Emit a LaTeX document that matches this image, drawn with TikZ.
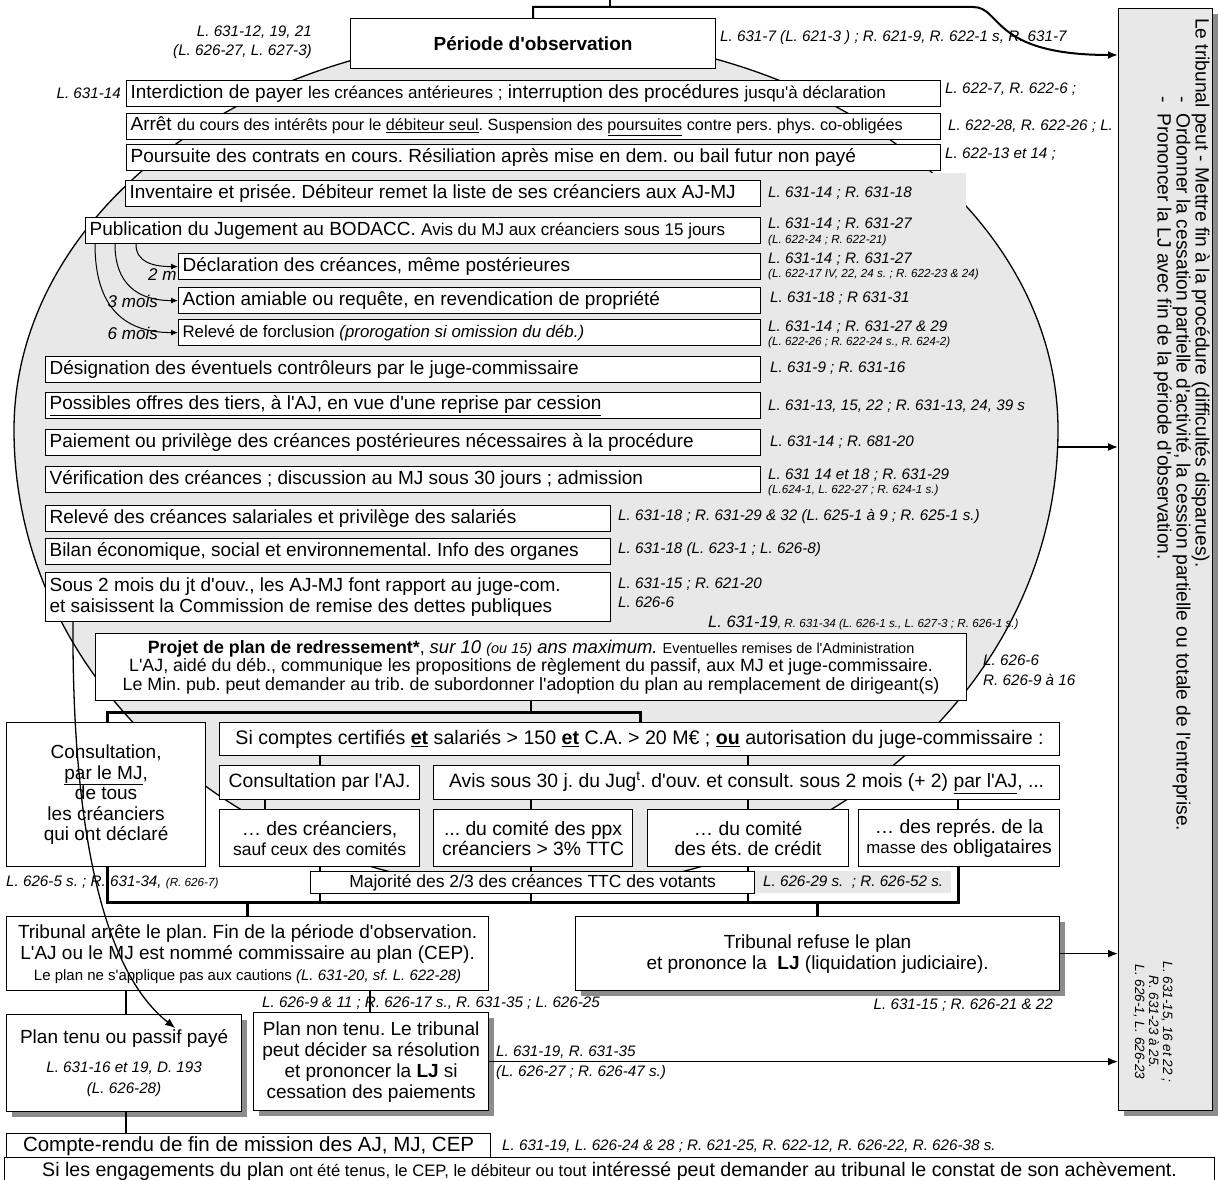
\documentclass[tikz,border=0pt]{standalone}
\usepackage{fontspec}
\setmainfont{Liberation Sans}[Ligatures=TeXOff]
\usetikzlibrary{arrows.meta, shadows}

\definecolor{grisfond}{gray}{0.91}
\definecolor{grisombre}{gray}{0.55}

\newcommand{\tgros}{\fontsize{19}{21}\selectfont}
\newcommand{\tmoy}{\fontsize{16.8}{18}\selectfont}
\newcommand{\tsi}{\fontsize{19.3}{20}\selectfont}
\newcommand{\tprojet}{\fontsize{17.8}{18.5}\selectfont}
\newcommand{\tloi}{\fontsize{15.2}{17}\selectfont\itshape}
\newcommand{\tmini}{\fontsize{11.7}{13}\selectfont\itshape}

\tikzset{
  boite/.style={draw, fill=white, line width=1.2pt, anchor=north west, inner xsep=4pt, inner ysep=0pt, align=flush left, font=\tgros},
  centre/.style={boite, align=flush center},
  taille/.style n args={2}{text width=#1pt, minimum width=#1pt+8pt, minimum height=#2pt},
  loi/.style={inner sep=0pt, anchor=west, font=\tloi},
  petit/.style={inner sep=0pt, anchor=west, font=\tmini},
  delai/.style={inner sep=0pt, font=\fontsize{17}{19}\selectfont\itshape},
  trait/.style={line width=1.3pt},
  barre/.style={line width=3pt},
  fleche/.style={line width=1.6pt, -{Latex[length=10pt,width=8pt]}},
  petitefleche/.style={line width=1pt, -{Latex[length=7pt,width=6pt]}},
  ombre/.style={drop shadow={shadow xshift=5pt, shadow yshift=-5pt, fill=grisombre, opacity=1}},
}

\begin{document}
\frenchspacing
\begin{tikzpicture}[x=1pt, y=-1pt]
    \useasboundingbox (0,0) rectangle (1218,1180);

    % Ovale de la période d'observation
    \draw[fill=grisfond, line width=1.3pt] (14,430)
        arc[start angle=180, end angle=0, x radius=522pt, y radius=395pt]
        arc[start angle=0, end angle=-180, x radius=522pt, y radius=460pt] -- cycle;
    \fill[grisfond] (760,173) rectangle (966,210);

    % Délais (sous les cases)
    \node[delai, anchor=west] (dm) at (148,275) {2 m};
    \node[delai, anchor=east] (tm) at (158,301) {3 mois};
    \node[delai, anchor=east] (sm) at (158,333) {6 mois};

    % Période d'observation
    \node[centre, taille={357}{50}, font=\tgros\bfseries] (obs) at (350,18) {Période d'observation};

    \node[boite, taille={806}{26}] (interd) at (126,80) {Interdiction de payer {\fontsize{17}{18}\selectfont les créances antérieures ;} interruption des procédures {\fontsize{17}{18}\selectfont jusqu'à déclaration}};
    \node[boite, taille={806}{26}] (arret) at (126,113) {Arrêt {\fontsize{16.2}{18}\selectfont du cours des intérêts pour le \underline{débiteur seul}. Suspension des \underline{poursuites} contre pers. phys. co-obligées}};
    \node[boite, taille={806}{26}] (pours) at (126,144) {Poursuite des contrats en cours. Résiliation après mise en dem. ou bail futur non payé};
    \node[boite, taille={627}{26}] (invent) at (125,180) {Inventaire et prisée. Débiteur remet la liste de ses créanciers aux AJ-MJ};
    \node[boite, taille={667}{26}] (publi) at (85,217) {Publication du Jugement au BODACC. {\fontsize{17}{18}\selectfont Avis du MJ aux créanciers sous 15 jours}};
    \node[boite, taille={574}{26}] (declar) at (178,253) {Déclaration des créances, même postérieures};
    \node[boite, taille={574}{26}] (action) at (178,287) {Action amiable ou requête, en revendication de propriété};
    \node[boite, taille={574}{26}, font=\tmoy] (releve) at (178,319) {Relevé de forclusion \textit{(prorogation si omission du déb.)}};
    \node[boite, taille={707}{26}] (design) at (45,356) {Désignation des éventuels contrôleurs par le juge-commissaire};
    \node[boite, taille={707}{26}] (offres) at (45,392) {\underline{Possibles offres des tiers, à l'AJ, en vue d'une reprise par cession}};
    \node[boite, taille={707}{26}] (paie) at (45,429) {Paiement ou privilège des créances postérieures nécessaires à la procédure};
    \node[boite, taille={707}{26}] (verif) at (45,466) {Vérification des créances ; discussion au MJ sous 30 jours ; admission};
    \node[boite, taille={557}{26}] (salar) at (45,505) {Relevé des créances salariales et privilège des salariés};
    \node[boite, taille={557}{26}] (bilan) at (45,538) {Bilan économique, social et environnemental. Info des organes};
    \node[boite, taille={557}{49}] (sous) at (45,572) {Sous 2 mois du jt d'ouv., les AJ-MJ font rapport au juge-com.\\et saisissent la Commission de remise des dettes publiques};

    \draw[petitefleche] ([xshift=51pt]publi.south west) .. controls +(0,18) and +(-25,0) .. (declar.west);
    \draw[petitefleche] ([xshift=30pt]publi.south west) .. controls +(0,40) and +(-40,0) .. (action.west);
    \draw[petitefleche] ([xshift=10pt]publi.south west) .. controls +(0,62) and +(-55,0) .. (releve.west);

    % Plan de redressement
    \node[centre, taille={863}{67}, font=\tprojet] (projet) at (95,633) {{\fontsize{17.8}{18.5}\selectfont\bfseries Projet de plan de redressement*}, {\fontsize{18.5}{18.5}\selectfont\itshape sur 10 {\fontsize{14.5}{16}\selectfont(ou 15)} ans maximum.} {\fontsize{14.5}{16}\selectfont Eventuelles remises de l'Administration}\\L'AJ, aidé du déb., communique les propositions de règlement du passif, aux MJ et juge-commissaire.\\Le Min. pub. peut demander au trib. de subordonner l'adoption du plan au remplacement de dirigeant(s)};

    \node[centre, taille={191}{144}, font={\fontsize{19}{20.5}\selectfont}] (consmj) at (6,722) {Consultation,\\\underline{par le MJ},\\de tous\\les créanciers\\qui ont déclaré};
    \node[centre, taille={832}{33}, font={\fontsize{19.6}{20}\selectfont}] (sic) at (219,722) {Si comptes certifiés \textbf{\underline{et}} salariés > 150 \textbf{\underline{et}} C.A. > 20 M€ ; \textbf{\underline{ou}} autorisation du juge-commissaire :};
    \node[centre, taille={192}{34}, font=\tsi] (aj) at (219,765) {Consultation par l'AJ.};
    \node[centre, taille={618}{34}, font=\tsi] (avis) at (433,765) {Avis sous 30 j. du Jug\textsuperscript{t}. d'ouv. et consult. sous 2 mois (+ 2) \underline{par l'AJ}, ...};
    \node[centre, taille={192}{57}, font=\tsi] (creanc) at (219,809) {… des créanciers,\\{\fontsize{17.5}{18}\selectfont sauf ceux des comités}};
    \node[centre, taille={191}{57}, font=\tsi] (ppx) at (433,809) {... du comité des ppx\\créanciers > 3\% TTC};
    \node[centre, taille={193}{57}, font=\tsi] (ets) at (647,809) {… du comité\\des éts. de crédit};
    \node[centre, taille={193}{57}, font=\tsi] (repres) at (858,809) {… des représ. de la\\{\tmoy masse des} obligataires};

    \node[centre, taille={474}{74}] (arrete) at (6,916) {Tribunal arrête le plan. Fin de la période d'observation.\\L'AJ ou le MJ est nommé commissaire au plan (CEP).\\{\fontsize{15}{16}\selectfont Le plan ne s'applique pas aux cautions \textit{(L. 631-20, sf. L. 622-28)}}};
    \node[centre, taille={476}{74}, ombre] (refuse) at (575,916) {Tribunal refuse le plan\\et prononce la \ \textbf{LJ} (liquidation judiciaire).};
    \node[centre, taille={227}{97}, ombre] (tenu) at (6,1014) {Plan tenu ou passif payé\\[12pt]{\tloi L. 631-16 et 19, D. 193\\(L. 626-28)}};
    \node[centre, taille={227}{98}, ombre] (nontenu) at (253,1012) {Plan non tenu. Le tribunal\\peut décider sa résolution\\et prononcer la \textbf{LJ} si\\cessation des paiements};
    \node[centre, taille={476}{25}, font={\fontsize{20.5}{21}\selectfont}] (compte) at (6,1133) {Compte-rendu de fin de mission des AJ, MJ, CEP};
    \node[centre, taille={1202}{28}, font={\fontsize{19.6}{21}\selectfont}] (engag) at (4,1157) {Si les engagements du plan {\fontsize{16.6}{18}\selectfont ont été tenus, le CEP, le débiteur ou tout} intéressé peut demander au tribunal le constat de son achèvement.\vphantom{(}};

    % Le tribunal peut
    \node[draw, fill=grisfond, line width=1.2pt, anchor=north west, minimum width=94pt, minimum height=1102pt, ombre] (tribpeut) at (1118,8) {};
    \node[rotate=-90, anchor=north west, align=left, inner sep=0pt, font={\fontsize{19.2}{19}\selectfont}] (peut) at (1210,18) {Le tribunal peut - Mettre fin à la procédure (difficultés disparues).\\\hspace*{78pt}-\ \ Ordonner la cessation partielle d'activité, la cession partielle ou totale de l'entreprise.\\\hspace*{78pt}-\ \ Prononcer la LJ avec fin de la période d'observation.};
    \node[rotate=-90, align=center, inner sep=0pt, font={\fontsize{13.5}{14}\selectfont\itshape}] (peutloi) at (1153,1022) {L. 631-15, 16 et 22 ;\\R. 631-23 à 25.\\L. 626-1, L. 626-23};

    % Liaisons
    \coordinate (entree) at (610,0);
    \coordinate (coude) at (610,7);
    \coordinate (finbarre) at (973,7);
    \draw[line width=2pt] (entree) -- (coude);
    \draw[fleche, line width=2pt] (obs.north) |- (finbarre) .. controls (1002,7) and (990,55) .. (tribpeut.west |- 0,55);
    \coordinate (ovale) at (1058,447);
    \draw[fleche] (ovale) -- (ovale -| tribpeut.west);
    \draw[fleche] (refuse.east) -- (refuse.east -| tribpeut.west);
    \draw[fleche] (nontenu.east) -- (nontenu.east -| tribpeut.west);

    \coordinate (bs1) at (107,712);
    \coordinate (bs2) at (640,712);
    \draw[trait] (projet.south) -- (projet.south |- bs1);
    \draw[barre] (bs1 |- consmj.north) -- (bs1) -- (bs2) -- (bs2 |- sic.north);
    \draw[trait] (sic.south -| 320,0) -- (aj.north -| 320,0);
    \draw[trait] (sic.south -| 748,0) -- (avis.north -| 748,0);
    \draw[trait] (aj.south -| 265,0) -- (creanc.north -| 265,0);
    \draw[trait] (avis.south -| 531,0) -- (ppx.north -| 531,0);
    \draw[trait] (avis.south -| 748,0) -- (ets.north -| 748,0);
    \draw[trait] (avis.south -| 958,0) -- (repres.north -| 958,0);

    \coordinate (bi1) at (107,902);
    \coordinate (bi2) at (958,902);
    \draw[barre] (bi1 |- consmj.south) -- (bi1) -- (bi2) -- (bi2 |- repres.south);
    \draw[trait] (creanc.south -| 320,0) -- (bi1 -| 320,0);
    \draw[trait] (ppx.south -| 531,0) -- (bi1 -| 531,0);
    \draw[trait] (ets.south -| 748,0) -- (bi1 -| 748,0);
    \draw[barre] (bi1 -| 247,0) -- (arrete.north -| 247,0);
    \draw[barre] (bi1 -| 817,0) -- (refuse.north -| 817,0);
    \draw[trait] (arrete.south -| 126,0) -- (tenu.north -| 126,0);
    \draw[trait] (arrete.south -| 370,0) -- (nontenu.north -| 370,0);
    \draw[trait] (tenu.south -| 126,0) -- (compte.north -| 126,0);

    \node[centre, taille={436}{22}, font={\fontsize{17.5}{18}\selectfont}] (majo) at (310,871) {Majorité des 2/3 des créances TTC des votants};

    % Références
    \node[loi, anchor=east] (r1) at (312,32) {L. 631-12, 19, 21};
    \node[loi, anchor=east] (r2) at (312,52) {(L. 626-27, L. 627-3)};
    \node[loi] (r3) at (720,38) {L. 631-7 (L. 621-3 ) ; R. 621-9, R. 622-1 s, R. 631-7};
    \node[loi, anchor=east] (r4) at (121,93) {L. 631-14};
    \node[loi] (r5) at (945,89) {L. 622-7, R. 622-6 ;};
    \node[loi] (r6) at (948,126) {L. 622-28, R. 622-26 ; L.};
    \node[loi] (r7) at (945,154) {L. 622-13 et 14 ;};
    \node[loi] (r8) at (768,193) {L. 631-14 ; R. 631-18};
    \node[loi] (r9) at (768,224) {L. 631-14 ; R. 631-27};
    \node[petit] (r9b) at (768,240) {(L. 622-24 ; R. 622-21)};
    \node[loi] (r10) at (768,259) {L. 631-14 ; R. 631-27};
    \node[petit] (r10b) at (768,274) {(L. 622-17 IV, 22, 24 s. ; R. 622-23 \& 24)};
    \node[loi] (r11) at (770,298) {L. 631-18 ; R 631-31};
    \node[loi] (r12) at (768,327) {L. 631-14 ; R. 631-27 \& 29};
    \node[petit] (r12b) at (768,342) {(L. 622-26 ; R. 622-24 s., R. 624-2)};
    \node[loi] (r13) at (770,368) {L. 631-9 ; R. 631-16};
    \node[loi] (r14) at (768,406) {L. 631-13, 15, 22 ; R. 631-13, 24, 39 s};
    \node[loi] (r15) at (770,442) {L. 631-14 ; R. 681-20};
    \node[loi] (r16) at (768,475) {L. 631 14 et 18 ; R. 631-29};
    \node[petit] (r16b) at (768,490) {(L.624-1, L. 622-27 ; R. 624-1 s.)};
    \node[loi] (r17) at (618,516) {L. 631-18 ; R. 631-29 \& 32 (L. 625-1 à 9 ; R. 625-1 s.)};
    \node[loi] (r18) at (618,550) {L. 631-18 (L. 623-1 ; L. 626-8)};
    \node[loi] (r19) at (618,584) {L. 631-15 ; R. 621-20};
    \node[loi] (r19b) at (618,602) {L. 626-6};
    \node[loi] (r20) at (708,623) {{\fontsize{16.5}{18}\selectfont L. 631-19}{\tmini, R. 631-34 (L. 626-1 s., L. 627-3 ; R. 626-1 s.)}};
    \node[loi] (r21) at (983,660) {L. 626-6};
    \node[loi] (r21b) at (983,680) {R. 626-9 à 16};
    \node[loi] (r22) at (6,882) {L. 626-5 s. ; R. 631-34, {\tmini (R. 626-7)}};
    \node[loi, fill=grisfond, inner xsep=8pt, minimum height=22pt] (r23) at (755,882) {L. 626-29 s. \ ; R. 626-52 s.};
    \node[loi] (r24) at (262,1003) {L. 626-9 \& 11 ; R. 626-17 s., R. 631-35 ; L. 626-25};
    \node[loi, anchor=east] (r25) at (1053,1005) {L. 631-15 ; R. 626-21 \& 22};
    \node[loi] (r26) at (496,1052) {L. 631-19, R. 631-35};
    \node[loi] (r26b) at (496,1073) {(L. 626-27 ; R. 626-47 s.)};
    \node[loi] (r27) at (502,1146) {L. 631-19, L. 626-24 \& 28 ; R. 621-25, R. 622-12, R. 626-22, R. 626-38 s.};

    % Jusqu'au plan tenu
    \draw[fleche, line width=1.3pt] ([xshift=28pt]sous.south west) .. controls (72,800) and (95,965) .. ([xshift=-67pt,yshift=-14pt]tenu.north east);
\end{tikzpicture}
\end{document}
